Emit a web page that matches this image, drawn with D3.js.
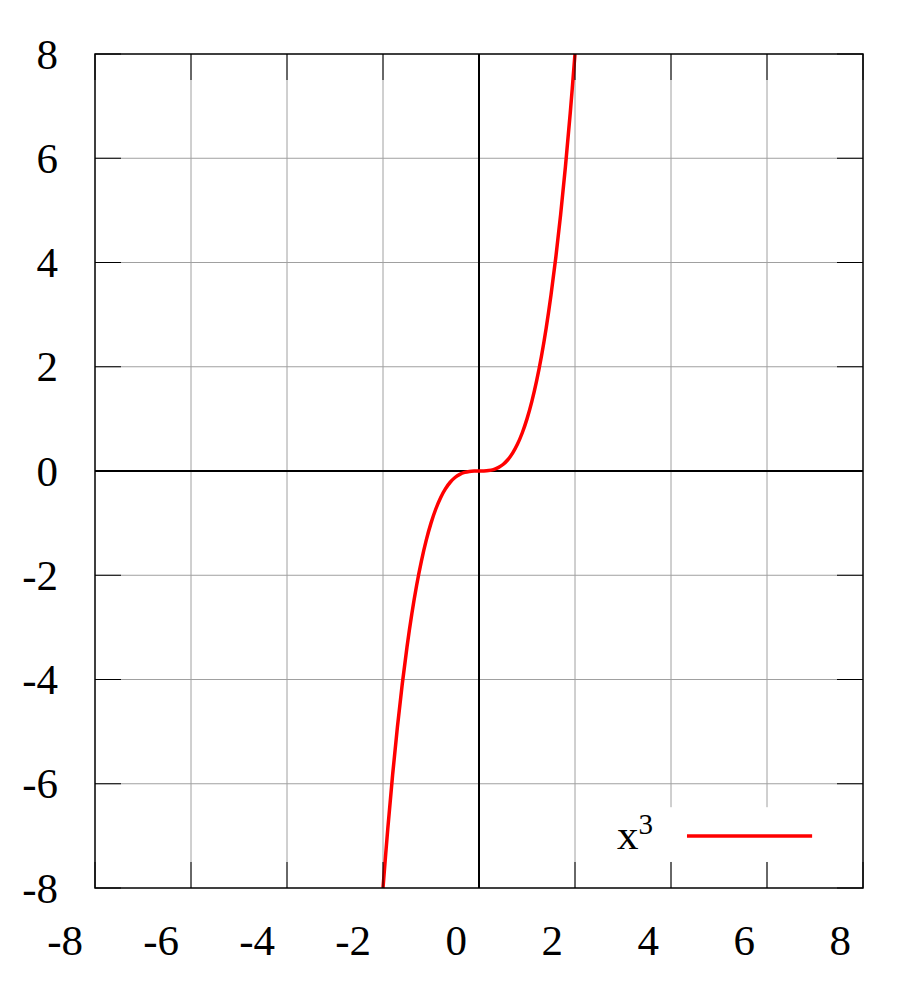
<!DOCTYPE html>
<html>
<head>
<meta charset="utf-8">
<script src="https://cdn.jsdelivr.net/npm/d3@7"></script>
<style>
  body { margin: 0; background: #fff; }
</style>
</head>
<body>
<div id="chart"></div>
<script>
// tick values on both axes
var xTicks = [-8, -6, -4, -2, 0, 2, 4, 6, 8],
    yTicks = [-8, -6, -4, -2, 0, 2, 4, 6, 8];
// points
var curveX = [-2.0, -1.9, -1.8, -1.7, -1.6, -1.5, -1.4, -1.3, -1.2, -1.1, -1.0,
              -0.9, -0.8, -0.7, -0.6, -0.5, -0.4, -0.3, -0.2, -0.1, 0.0,
              0.1, 0.2, 0.3, 0.4, 0.5, 0.6, 0.7, 0.8, 0.9, 1.0,
              1.1, 1.2, 1.3, 1.4, 1.5, 1.6, 1.7, 1.8, 1.9, 2.0];
var curveY = [-8.0, -6.859, -5.832, -4.913, -4.096, -3.375, -2.744, -2.197, -1.728, -1.331, -1.0,
              -0.729, -0.512, -0.343, -0.216, -0.125, -0.064, -0.027, -0.008, -0.001, 0.0,
              0.001, 0.008, 0.027, 0.064, 0.125, 0.216, 0.343, 0.512, 0.729, 1.0,
              1.331, 1.728, 2.197, 2.744, 3.375, 4.096, 4.913, 5.832, 6.859, 8.0];
var seriesName = "x";

var W = 912, H = 1000;
var margin = {top: 54, right: 49, bottom: 112, left: 95},
    width = W - margin.left - margin.right,
    height = H - margin.top - margin.bottom;

var svg = d3.select("#chart").append("svg")
    .attr("width", W)
    .attr("height", H)
    .attr("font-family", "'Liberation Serif', 'Times New Roman', Times, 'DejaVu Serif', serif");

var g = svg.append("g")
    .attr("transform", "translate(" + margin.left + "," + margin.top + ")");

var xScale = d3.scaleLinear().domain([-8, 8]).range([0, width]),
    yScale = d3.scaleLinear().domain([-8, 8]).range([height, 0]);

var tickLen = 26;

// grid lines
g.append("g").selectAll("line")
  .data(xTicks.slice(1, -1).filter(function (d) { return d !== 0; }))
  .enter().append("line")
    .attr("x1", xScale).attr("x2", xScale)
    .attr("y1", 0).attr("y2", height)
    .attr("stroke", "#a0a0a0").attr("stroke-width", 1);
g.append("g").selectAll("line")
  .data(yTicks.slice(1, -1).filter(function (d) { return d !== 0; }))
  .enter().append("line")
    .attr("y1", yScale).attr("y2", yScale)
    .attr("x1", 0).attr("x2", width)
    .attr("stroke", "#a0a0a0").attr("stroke-width", 1);

// zero axes
g.append("line")
  .attr("x1", xScale(0)).attr("x2", xScale(0))
  .attr("y1", 0).attr("y2", height)
  .attr("stroke", "#000").attr("stroke-width", 2);
g.append("line")
  .attr("x1", 0).attr("x2", width)
  .attr("y1", yScale(0)).attr("y2", yScale(0))
  .attr("stroke", "#000").attr("stroke-width", 2);

// the curve
var line = d3.line()
    .x(function (d, i) { return xScale(curveX[i]); })
    .y(function (d, i) { return yScale(curveY[i]); })
    .curve(d3.curveCatmullRom);

g.append("path")
  .attr("d", line(curveX))
  .attr("fill", "none")
  .attr("stroke", "#ff0000")
  .attr("stroke-width", 3.5);

// legend box (opaque, hides grid under it)
var legend = g.append("g");
legend.append("rect")
  .attr("x", xScale(2.4)).attr("y", yScale(-6.45))
  .attr("width", xScale(7.5) - xScale(2.4))
  .attr("height", yScale(-7.5) - yScale(-6.45))
  .attr("fill", "#fff");

// ticks, inward, mirrored on top/right
var ticks = g.append("g").attr("stroke", "#000").attr("stroke-width", 1);
xTicks.forEach(function (d) {
  ticks.append("line")
    .attr("x1", xScale(d)).attr("x2", xScale(d))
    .attr("y1", height).attr("y2", height - tickLen);
  ticks.append("line")
    .attr("x1", xScale(d)).attr("x2", xScale(d))
    .attr("y1", 0).attr("y2", tickLen);
});
yTicks.forEach(function (d) {
  ticks.append("line")
    .attr("y1", yScale(d)).attr("y2", yScale(d))
    .attr("x1", 0).attr("x2", tickLen);
  ticks.append("line")
    .attr("y1", yScale(d)).attr("y2", yScale(d))
    .attr("x1", width).attr("x2", width - tickLen);
});

// frame
g.append("rect")
  .attr("x", 0).attr("y", 0)
  .attr("width", width).attr("height", height)
  .attr("fill", "none")
  .attr("stroke", "#000").attr("stroke-width", 1.5);

// tick labels
g.append("g").selectAll("text")
  .data(yTicks)
  .enter().append("text")
    .attr("x", -37)
    .attr("y", yScale)
    .attr("dy", "0.34em")
    .attr("text-anchor", "end")
    .attr("font-size", 43)
    .text(function (d) { return d; });

g.append("g").selectAll("text")
  .data(xTicks)
  .enter().append("text")
    .attr("x", function (d) { return xScale(d) - 12; })
    .attr("y", height + 67)
    .attr("text-anchor", "end")
    .attr("font-size", 43)
    .text(function (d) { return d; });

// legend entry
var lt = legend.append("text")
  .attr("x", xScale(2.875))
  .attr("y", yScale(-7.0) + 13)
  .attr("font-size", 43);
lt.append("tspan").text(seriesName);
lt.append("tspan")
  .attr("font-size", 29)
  .attr("dy", -15)
  .text("3");

legend.append("line")
  .attr("x1", xScale(4.333)).attr("x2", xScale(6.94))
  .attr("y1", yScale(-7.0)).attr("y2", yScale(-7.0))
  .attr("stroke", "#ff0000")
  .attr("stroke-width", 3.5);
</script>
</body>
</html>
